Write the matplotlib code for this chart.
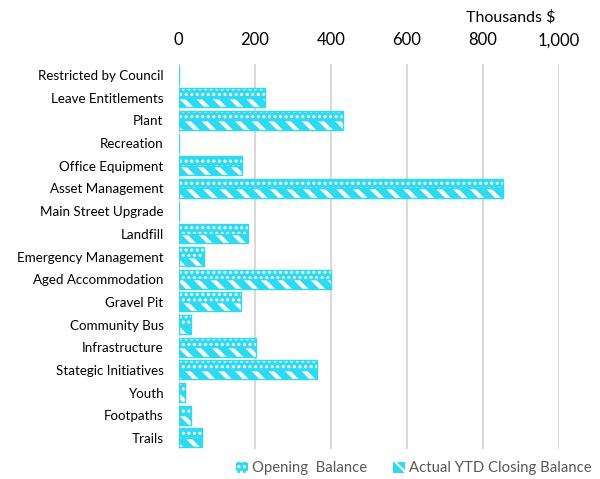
import matplotlib
matplotlib.use("Agg")
import matplotlib.pyplot as plt
import numpy as np
from matplotlib.patches import Patch

categories = ["Restricted by Council", "Leave Entitlements", "Plant", "Recreation",
              "Office Equipment", "Asset Management", "Main Street Upgrade", "Landfill",
              "Emergency Management", "Aged Accommodation", "Gravel Pit", "Community Bus",
              "Infrastructure", "Stategic Initiatives", "Youth", "Footpaths", "Trails"]
opening = [0, 226, 431, 1, 166, 852, 0, 182, 66, 400, 163, 32, 203, 362, 17, 31, 60]
closing = [0, 226, 431, 1, 166, 852, 0, 182, 66, 400, 163, 32, 203, 362, 17, 31, 60]
xticks = [0, 200, 400, 600, 800, 1000]
xticklabels = ["0", "200", "400", "600", "800", "1,000"]

CYAN = "#2ED9F2"
plt.rcParams['font.family'] = ['Lato', 'DejaVu Sans']

fig = plt.figure(figsize=(6, 4.79), dpi=100)
ax = fig.add_axes([0.298, 0.062, 0.634, 0.805])

y = np.arange(len(categories))
h = 0.42
off = 0.21

plt.rcParams['hatch.linewidth'] = 1.5
ax.barh(y - off, opening, height=h, color=CYAN, edgecolor="white", hatch="...", linewidth=0, zorder=3)
plt.rcParams['hatch.linewidth'] = 3.0
ax.barh(y + off, closing, height=h, color=CYAN, edgecolor="white", hatch="\\\\", linewidth=0, zorder=3)
ax.barh(y - off, opening, height=h, fill=False, edgecolor=CYAN, linewidth=1.0, zorder=4)
ax.barh(y + off, closing, height=h, fill=False, edgecolor=CYAN, linewidth=1.0, zorder=4)

ax.set_ylim(len(categories) - 0.5, -0.5)
ax.set_xlim(0, 1000)
ax.set_yticks(y)
ax.set_yticklabels(categories, fontsize=9.6)
ax.xaxis.tick_top()
ax.set_xticks(xticks)
ax.set_xticklabels(xticklabels, fontsize=12)
ax.tick_params(axis='both', length=0, colors="black")
ax.tick_params(axis='y', pad=11)
ax.tick_params(axis='x', pad=11)
ax.grid(axis='x', color="#D9D9D9", linewidth=1.5, zorder=0)
for s in ax.spines.values():
    s.set_visible(False)

fig.text(0.925, 0.965, "Thousands $", fontsize=11.5, ha="right", va="center")

plt.rcParams['hatch.linewidth'] = 1.5
handles = [Patch(facecolor=CYAN, edgecolor="white", hatch="...", linewidth=0),
           Patch(facecolor=CYAN, edgecolor="white", hatch="\\\\", linewidth=0)]
fig.legend(handles, ["Opening  Balance", "Actual YTD Closing Balance"],
           loc="center", bbox_to_anchor=(0.69, 0.022), ncol=2, frameon=False,
           fontsize=10.7, handlelength=0.8, handleheight=0.8, handletextpad=0.3,
           columnspacing=1.7, labelcolor="#595959")

fig.savefig("out.png", dpi=100)
